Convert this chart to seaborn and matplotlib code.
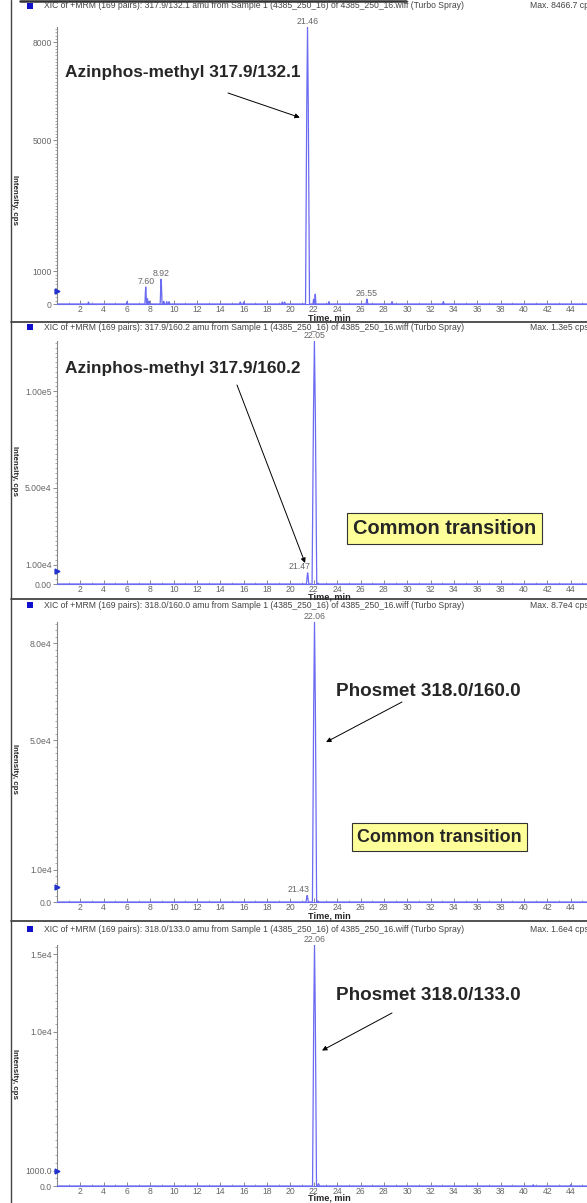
import matplotlib
matplotlib.use("Agg")
import matplotlib.pyplot as plt
import seaborn as sns
import pandas as pd
from matplotlib.ticker import FixedLocator, MultipleLocator
from matplotlib.lines import Line2D
from matplotlib.patches import Rectangle

W, H = 587, 1203

# chromatogram peaks: retention time (min), height (cps), half width (min)
p1_rt = [2.7, 6.0, 7.60, 7.75, 7.9, 8.92, 9.15, 9.4, 9.6, 15.7, 16.0, 19.3, 19.5, 21.46, 21.98, 22.12, 23.3, 26.55, 28.7, 33.1]
p1_h = [60, 70, 520, 160, 80, 760, 80, 70, 70, 60, 60, 60, 60, 8466.7, 150, 300, 70, 150, 70, 70]
p1_w = [0.06, 0.06, 0.07, 0.05, 0.05, 0.08, 0.05, 0.05, 0.05, 0.06, 0.06, 0.06, 0.06, 0.17, 0.05, 0.06, 0.06, 0.07, 0.06, 0.06]

p2_rt = [21.47, 22.05, 22.35]
p2_h = [5800, 126000, 400]
p2_w = [0.10, 0.20, 0.08]

p3_rt = [21.43, 22.06, 22.35]
p3_h = [2000, 86500, 300]
p3_w = [0.10, 0.18, 0.08]

p4_rt = [22.06, 22.4, 40.8, 44.0]
p4_h = [15600, 150, 80, 80]
p4_w = [0.17, 0.08, 0.06, 0.06]

headers = [
    "XIC of +MRM (169 pairs): 317.9/132.1 amu from Sample 1 (4385_250_16) of 4385_250_16.wiff (Turbo Spray)",
    "XIC of +MRM (169 pairs): 317.9/160.2 amu from Sample 1 (4385_250_16) of 4385_250_16.wiff (Turbo Spray)",
    "XIC of +MRM (169 pairs): 318.0/160.0 amu from Sample 1 (4385_250_16) of 4385_250_16.wiff (Turbo Spray)",
    "XIC of +MRM (169 pairs): 318.0/133.0 amu from Sample 1 (4385_250_16) of 4385_250_16.wiff (Turbo Spray)",
]
max_labels = ["Max. 8466.7 cps", "Max. 1.3e5 cps", "Max. 8.7e4 cps", "Max. 1.6e4 cps"]
ymax = [8466.7, 126000, 86500, 15600]
yticks = [[0, 1000, 5000, 8000], [0, 1e4, 5e4, 1e5], [0, 1e4, 5e4, 8e4], [0, 1000, 1e4, 1.5e4]]
yticklabels = [["0", "1000", "5000", "8000"], ["0.00", "1.00e4", "5.00e4", "1.00e5"],
               ["0.0", "1.0e4", "5.0e4", "8.0e4"], ["0.0", "1000.0", "1.0e4", "1.5e4"]]
yminor = [100, 2500, 2000, 500]
# (rt, text, horizontal alignment)
peak_labels = [[(21.46, "21.46", "center"), (7.60, "7.60", "center"), (8.92, "8.92", "center"), (26.55, "26.55", "center")],
               [(22.05, "22.05", "center"), (21.47, "21.47", "right")],
               [(22.06, "22.06", "center"), (21.43, "21.43", "right")],
               [(22.06, "22.06", "center")]]
compounds = ["Azinphos-methyl 317.9/132.1", "Azinphos-methyl 317.9/160.2",
             "Phosmet 318.0/160.0", "Phosmet 318.0/133.0"]
compound_size = [12.4, 12.4, 13.6, 13.6]
thresholds = [400, 6700, 4600, 970]

# layout in pixels
ax_boxes = [(304, 27), (584, 341), (902, 622), (1186, 945)]  # (bottom, top)
header_y = [6, 327, 605, 929]
sep_y = [322, 599, 921]
time_y = [318, 597, 916, 1198.5]
label_pos = [(65, 72), (65, 368), (336, 692), (336, 995)]
arrow_from = [(228, 93), (237, 385), (402, 702), (392, 1013)]
arrow_to = [(20.8, 5700), (21.25, 10900), (23.05, 49400), (22.7, 8770)]
boxes = [None, (353, 528, 14.4), (357, 837, 12.9), None]
ylabel_y = [200, 471, 769, 1074]

XMIN, XMAX = 0.0, 45.4
TRACE = "#6b6bf2"
GREY = "#666666"


def fx(x):
    return x / W


def fy(y):
    return 1 - y / H


def trace(rts, hs, ws):
    pts = [(XMIN, 0.0)]
    for rt, h, w in zip(rts, hs, ws):
        pts += [(rt - w, 0.0), (rt - 0.4 * w, 0.7 * h), (rt, h), (rt + 0.4 * w, 0.7 * h), (rt + w, 0.0)]
    pts.append((XMAX, 0.0))
    pts.sort()
    return pd.DataFrame(pts, columns=["time", "intensity"])


sns.set_style("white")
plt.rcParams["font.family"] = ["Liberation Sans", "DejaVu Sans"]

fig = plt.figure(figsize=(W / 100, H / 100), dpi=100)

panels = [(p1_rt, p1_h, p1_w), (p2_rt, p2_h, p2_w), (p3_rt, p3_h, p3_w), (p4_rt, p4_h, p4_w)]
for i, (rts, hs, ws) in enumerate(panels):
    bottom, top = ax_boxes[i]
    ax = fig.add_axes([fx(57), fy(bottom), 1 - fx(57), (bottom - top) / H])
    df = trace(rts, hs, ws)
    sns.lineplot(data=df, x="time", y="intensity", ax=ax, color=TRACE, lw=0.9,
                 estimator=None, sort=False, zorder=3)
    ax.set_xlim(XMIN, XMAX)
    ax.set_ylim(0, ymax[i])
    ax.patch.set_alpha(0)
    for s in ["top", "right"]:
        ax.spines[s].set_visible(False)
    ax.spines["left"].set_color("#888888")
    ax.spines["bottom"].set_color(TRACE)
    ax.spines["left"].set_linewidth(0.8)
    ax.spines["bottom"].set_linewidth(0.8)
    ax.set_xticks(range(2, 46, 2))
    ax.set_xticklabels([str(v) for v in range(2, 46, 2)])
    ax.xaxis.set_minor_locator(MultipleLocator(1))
    ax.yaxis.set_major_locator(FixedLocator(yticks[i]))
    ax.set_yticklabels(yticklabels[i])
    ax.yaxis.set_minor_locator(MultipleLocator(yminor[i]))
    ax.tick_params(axis="both", which="major", labelcolor=GREY, color="#777777",
                   length=3, width=0.6, pad=0.8, left=True, bottom=True, labelsize=6.2)
    ax.tick_params(axis="both", which="minor", color="#888888", length=1.8, width=0.5, left=True, bottom=True)
    ax.tick_params(axis="x", which="both", direction="in", pad=0.6)
    ax.set_xlabel("")
    ax.set_ylabel("")

    # peak apex labels
    for rt, txt, ha in peak_labels[i]:
        h = hs[rts.index(rt)]
        dx = 2 if ha == "right" else 0
        ax.annotate(txt, xy=(rt, h), xytext=(dx, 1), textcoords="offset points",
                    ha=ha, va="bottom", fontsize=6.3, color=GREY, annotation_clip=False)

    # threshold marker on the y axis
    ax.plot([XMIN], [thresholds[i]], marker=">", ms=3.5, color="#2233cc", clip_on=False, zorder=4)

    # compound label and arrow
    lx, ly = label_pos[i]
    fig.text(fx(lx), fy(ly), compounds[i], fontsize=compound_size[i], fontweight="bold", ha="left", va="center")
    ax.annotate("", xy=arrow_to[i], xycoords="data", xytext=(fx(arrow_from[i][0]), fy(arrow_from[i][1])),
                textcoords="figure fraction",
                arrowprops=dict(arrowstyle="-|>", lw=0.7, color="black", mutation_scale=7, shrinkA=0, shrinkB=0))

    if boxes[i] is not None:
        bx, by, bs = boxes[i]
        fig.text(fx(bx), fy(by), "Common transition", fontsize=bs, fontweight="bold", ha="left", va="center",
                 bbox=dict(boxstyle="square,pad=0.3", fc="#ffff99", ec="#333333", lw=0.8))

    # x label sitting just under the tick labels
    fig.text(fx(329), fy(time_y[i]), "Time, min", fontsize=6.6, fontweight="bold",
             ha="center", va="center")
    fig.text(fx(14), fy(ylabel_y[i]), "Intensity, cps", fontsize=5.7, fontweight="bold",
             rotation=-90, ha="center", va="center")

    # header line
    fig.text(fx(44), fy(header_y[i]), headers[i], fontsize=6.2, color="#444444", ha="left", va="center")
    fig.text(fx(530), fy(header_y[i]), max_labels[i], fontsize=6.2, color="#444444", ha="left", va="center")
    fig.add_artist(Rectangle((fx(27), fy(header_y[i] + 3)), 6 / W, 6 / H, transform=fig.transFigure,
                             fc="#1111cc", ec="none"))

# frame lines
fig.add_artist(Line2D([fx(11), fx(11)], [0, 1], transform=fig.transFigure, color="#444444", lw=1))
fig.add_artist(Line2D([fx(20), fx(406)], [fy(0.8), fy(0.8)], transform=fig.transFigure, color="#333333", lw=1.8))
for y in sep_y:
    fig.add_artist(Line2D([fx(11), 1], [fy(y), fy(y)], transform=fig.transFigure, color="#444444", lw=1.3))

fig.savefig("out.png", dpi=100)
